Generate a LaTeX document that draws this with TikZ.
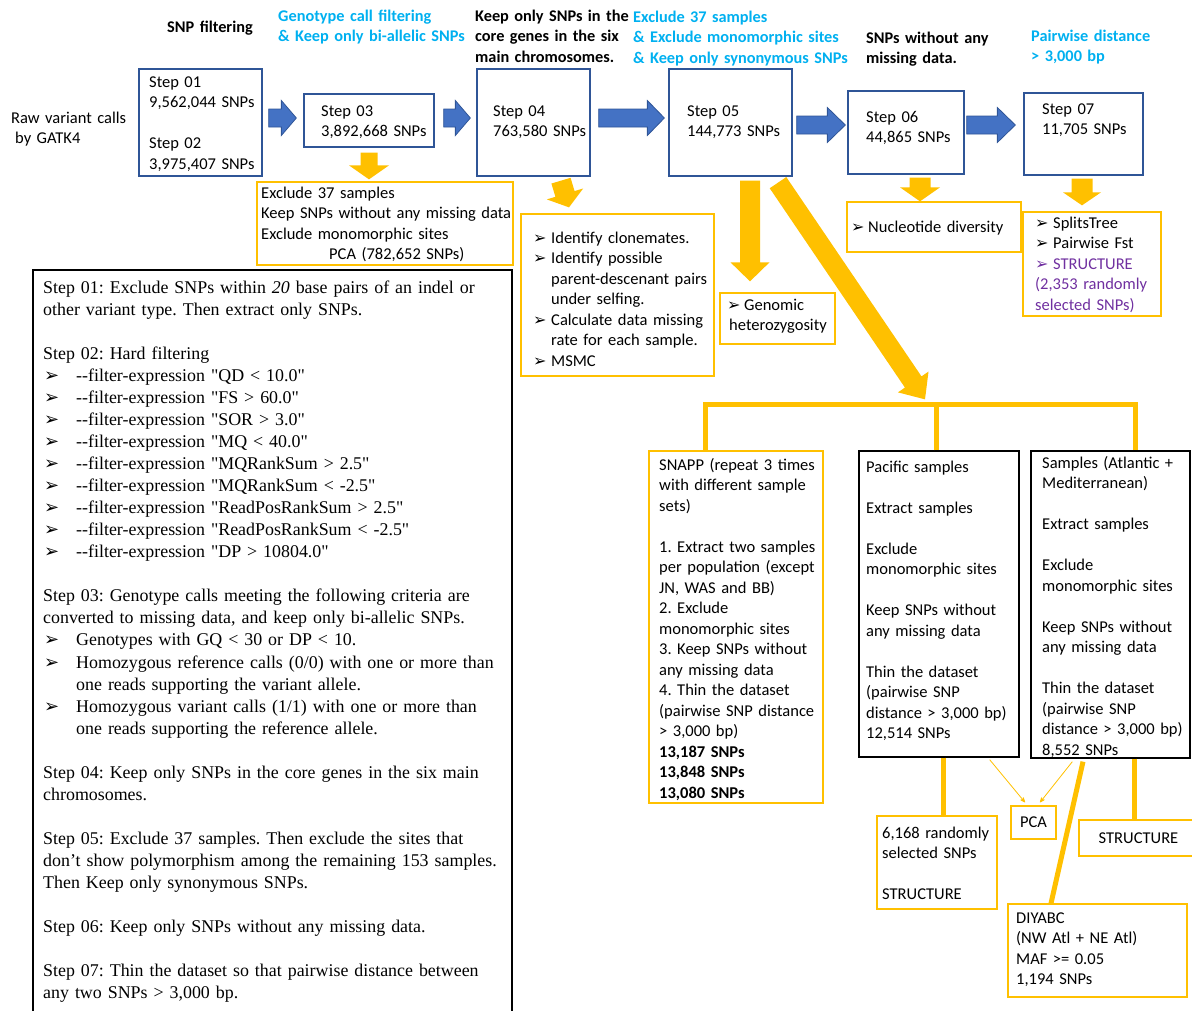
\documentclass[tikz,border=0pt]{standalone}
\usepackage{fontspec}
\setmainfont{Carlito}
\newfontfamily\tnr{Liberation Serif}
\newfontfamily\dingfont{DejaVu Sans}
\usetikzlibrary{calc}
\usetikzlibrary{arrows}
\usetikzlibrary{positioning}
\frenchspacing

\definecolor{hcyan}{HTML}{00B0F0}
\definecolor{boxblue}{HTML}{2F5597}
\definecolor{arrblue}{HTML}{4472C4}
\definecolor{ygold}{HTML}{FFC000}
\definecolor{vio}{HTML}{7030A0}

\newcommand{\calsize}{\fontsize{16.5}{20.5}\selectfont}
\newcommand{\hdsize}{\fontsize{16.3}{20.5}\selectfont}
\newcommand{\tnrsize}{\tnr\fontsize{17.9}{22.06}\selectfont}
\newcommand{\bul}{\makebox[18pt][l]{\dingfont\fontsize{16}{16}\selectfont ➢}}
\newcommand{\sbul}{\makebox[33pt][l]{\hspace{1pt}\dingfont\fontsize{18}{18}\selectfont ➢}}
% block arrow: style, tail, tip, half shaft, half head, head length
\newcommand{\blockarrow}[6]{%
  \coordinate (ba) at #2;
  \coordinate (bb) at #3;
  \coordinate (bc) at ($(bb)!#6pt!(ba)$);
  \path[#1] ($(ba)!#4pt!90:(bb)$) -- ($(bc)!#4pt!-90:(ba)$) -- ($(bc)!#5pt!-90:(ba)$) -- (bb)
    -- ($(bc)!#5pt!90:(ba)$) -- ($(bc)!#4pt!90:(ba)$) -- ($(ba)!#4pt!-90:(bb)$) -- cycle;
}

\tikzset{
  txt/.style={anchor=base west, inner sep=0pt, text width=320pt, align=left, font=\calsize},
  hd/.style={txt, font=\hdsize\bfseries},
  stepbox/.style={draw=boxblue, line width=1.3pt, inner sep=0pt},
  ybox/.style={draw=ygold, line width=1.3pt, inner sep=0pt, font=\calsize},
  kbox/.style={draw=black, line width=1.3pt, inner sep=0pt},
  blarrow/.style={fill=arrblue, draw=boxblue, line width=0.8pt},
  yarrow/.style={fill=ygold},
  yline/.style={draw=ygold, line width=5pt},
  ythin/.style={draw=ygold, line width=0.8pt, ->, >=stealth'}
}

\begin{document}
\begin{tikzpicture}[x=1pt, y=-1pt]
\useasboundingbox (0,0) rectangle (1192,1010);

% headers
\node[hd] (hsnp) at (167,32) {SNP filtering};
\node[hd, text=hcyan] (hgeno) at (278,21) {Genotype call filtering\\\& Keep only bi-allelic SNPs};
\node[hd] (hcore) at (475,21) {Keep only SNPs in the\\core genes in the six\\main chromosomes.};
\node[hd, text=hcyan] (hexcl) at (633,22) {Exclude 37 samples\\\& Exclude monomorphic sites\\\& Keep only synonymous SNPs};
\node[hd] (hmiss) at (866,43) {SNPs without any\\missing data.};
\node[hd, text=hcyan] (hpair) at (1031,41) {Pairwise distance\\> 3,000 bp};
\node[txt] (traw) at (11,123) {Raw variant calls\\\hspace*{4pt}by GATK4};

% step boxes
\node[stepbox, minimum width=123pt, minimum height=107pt] (s12) at (200.5,122.5) {};
\node[stepbox, minimum width=130pt, minimum height=53pt] (s03) at (369,120.5) {};
\node[stepbox, minimum width=113pt, minimum height=107pt] (s04) at (533.5,122.5) {};
\node[stepbox, minimum width=123pt, minimum height=107pt] (s05) at (730.5,122.5) {};
\node[stepbox, minimum width=116pt, minimum height=83pt] (s06) at (906,132.5) {};
\node[stepbox, minimum width=119pt, minimum height=82pt] (s07) at (1083.5,134) {};
\node[txt] (t12) at (149,87) {Step 01\\9,562,044 SNPs\\[20.5pt]Step 02\\3,975,407 SNPs};
\node[txt] (t03) at (321,116) {Step 03\\3,892,668 SNPs};
\node[txt] (t04) at (493,116) {Step 04\\763,580 SNPs};
\node[txt] (t05) at (687,116) {Step 05\\144,773 SNPs};
\node[txt] (t06) at (866,122) {Step 06\\44,865 SNPs};
\node[txt] (t07) at (1042,114) {Step 07\\11,705 SNPs};

\blockarrow{blarrow}{($(s12.east)+(6,-4.5)$)}{($(s03.west)+(-7,-2.5)$)}{9}{17.5}{15}
\blockarrow{blarrow}{($(s03.east)+(9,-2.5)$)}{($(s04.west)+(-6,-4.5)$)}{9}{17.5}{15}
\blockarrow{blarrow}{($(s04.east)+(8,-4.5)$)}{($(s05.west)+(-4,-4.5)$)}{9}{17.5}{17}
\blockarrow{blarrow}{($(s05.east)+(4,2.5)$)}{($(s06.west)+(-2,-7.5)$)}{9}{17.5}{18}
\blockarrow{blarrow}{($(s06.east)+(2,-7.5)$)}{($(s07.west)+(-8,-9)$)}{9}{17.5}{18}

% analysis boxes
\node[ybox, minimum width=256pt, minimum height=83pt] (ypca) at (385,223.5) {};
\node[ybox, minimum width=193pt, minimum height=162pt] (yid) at (617.5,295) {};
\node[ybox, minimum width=115pt, minimum height=51pt] (ygen) at (777.5,318.5) {};
\node[ybox, minimum width=174pt, minimum height=50pt] (ynuc) at (934,227) {};
\node[ybox, minimum width=138pt, minimum height=104pt] (yspl) at (1092,264) {};
\node[txt] (tpca) at (261,198) {Exclude 37 samples\\Keep SNPs without any missing data\\Exclude monomorphic sites\\\hspace*{68pt}PCA (782,652 SNPs)};
\node[txt] (tid) at (533,243) {\bul Identify clonemates.\\\bul Identify possible\\\hspace*{18pt}parent-descenant pairs\\\hspace*{18pt}under selfing.\\\bul Calculate data missing\\\hspace*{18pt}rate for each sample.\\\bul MSMC};
\node[txt] (tgen) at (727,310) {\makebox[17pt][l]{\dingfont\fontsize{16}{16}\selectfont ➢}Genomic\\\hspace*{2pt}heterozygosity};
\node[txt] (tnuc) at (851,232) {\makebox[17pt][l]{\dingfont\fontsize{16}{16}\selectfont ➢}Nucleotide diversity};
\node[txt] (tspl) at (1035,228) {\bul SplitsTree\\\bul Pairwise Fst\\{\color{vio}\bul STRUCTURE\\(2,353 randomly\\selected SNPs)}};

% population branches
\node[ybox, minimum width=174pt, minimum height=352pt] (ysnapp) at (736,627) {};
\node[kbox, minimum width=160pt, minimum height=306pt] (bpac) at (939,604) {};
\node[kbox, minimum width=159pt, minimum height=307pt] (batl) at (1110.5,604.5) {};
\node[txt] (tsnapp) at (659,470) {SNAPP (repeat 3 times\\with different sample\\sets)\\[20.5pt]1. Extract two samples\\per population (except\\JN, WAS and BB)\\2. Exclude\\monomorphic sites\\3. Keep SNPs without\\any missing data\\4. Thin the dataset\\(pairwise SNP distance\\> 3,000 bp)\\\textbf{13,187 SNPs}\\\textbf{13,848 SNPs}\\\textbf{13,080 SNPs}};
\node[txt] (tpac) at (866,472) {Pacific samples\\[20.5pt]Extract samples\\[20.5pt]Exclude\\monomorphic sites\\[20.5pt]Keep SNPs without\\any missing data\\[20.5pt]Thin the dataset\\(pairwise SNP\\distance > 3,000 bp)\\12,514 SNPs};
\node[txt] (tatl) at (1042,468) {Samples (Atlantic +\\Mediterranean)\\[20.5pt]Extract samples\\[20.5pt]Exclude\\monomorphic sites\\[20.5pt]Keep SNPs without\\any missing data\\[20.5pt]Thin the dataset\\(pairwise SNP\\distance > 3,000 bp)\\8,552 SNPs};

\blockarrow{yarrow}{($(s03.south)+(0,5)$)}{($(ypca.north)+(-16,-2)$)}{8.5}{20}{14}
\blockarrow{yarrow}{($(s04.south)+(27.5,4)$)}{($(yid.north)+(-48.5,-6)$)}{10}{19}{14}
\blockarrow{yarrow}{($(s05.south)+(19.5,4)$)}{($(ygen.north)+(-27.5,-11)$)}{10}{19.5}{19}
\blockarrow{yarrow}{($(s05.south)+(47.5,6)$)}{($(bpac.north)+(-14,-51)$)}{10}{18.5}{21}
\blockarrow{yarrow}{($(s06.south)+(14,3)$)}{($(ynuc.north)+(-14,0)$)}{10.5}{20}{14}
\blockarrow{yarrow}{($(s07.south)+(-1.5,3)$)}{($(yspl.north)+(-10,-6)$)}{10.5}{19}{13}

\draw[yline] ($(ysnapp.north)+(-31,0)$) -- ++(0,-46) -| ($(batl.north)+(24.5,0)$);
\draw[yline] ($(bpac.north)+(-3,0)$) -- ++(0,-46);

% downstream analyses
\node[ybox, minimum width=120pt, minimum height=93pt] (y6168) at (937,862.5) {};
\node[ybox, minimum width=45pt, minimum height=33pt] (ypcab) at (1033.5,822.5) {PCA};
\node[ybox, minimum width=119pt, minimum height=36pt] (ystr) at (1138.5,838) {STRUCTURE};
\node[ybox, minimum width=179pt, minimum height=93pt] (ydiy) at (1097.5,950.5) {};
\node[txt] (t6168) at (882,838) {6,168 randomly\\selected SNPs\\[20.5pt]STRUCTURE};
\node[txt] (tdiy) at (1016,923) {DIYABC\\(NW Atl + NE Atl)\\MAF >= 0.05\\1,194 SNPs};

\path (bpac.south) ++(4,0) coordinate (pc1);
\path (batl.south) ++(23.5,0) coordinate (ac1);
\draw[yline] (pc1) -- (pc1 |- y6168.north);
\draw[yline] (ac1) -- (ac1 |- ystr.north);
\draw[yline] ($(batl.south)+(-27.5,3)$) -- ($(ydiy.north)+(-46.5,0)$);
\draw[ythin] ($(bpac.south east)+(-30,2)$) -- ($(ypcab.north)+(-8.5,-3)$);
\draw[ythin] ($(batl.south west)+(42,3)$) -- ($(ypcab.north)+(6.5,-3)$);

% notes on the steps
\node[kbox, minimum width=479pt, minimum height=746pt] (bsteps) at (272.5,643) {};
\node[txt, text width=480pt, font=\tnrsize] (tsteps) at (43,293) {Step 01: Exclude SNPs within \textit{20} base pairs of an indel or\\
other variant type. Then extract only SNPs.\\[22.06pt]
Step 02: Hard filtering\\
\sbul -{}-filter-expression "QD < 10.0"\\
\sbul -{}-filter-expression "FS > 60.0"\\
\sbul -{}-filter-expression "SOR > 3.0"\\
\sbul -{}-filter-expression "MQ < 40.0"\\
\sbul -{}-filter-expression "MQRankSum > 2.5"\\
\sbul -{}-filter-expression "MQRankSum < -2.5"\\
\sbul -{}-filter-expression "ReadPosRankSum > 2.5"\\
\sbul -{}-filter-expression "ReadPosRankSum < -2.5"\\
\sbul -{}-filter-expression "DP > 10804.0"\\[22.06pt]
Step 03: Genotype calls meeting the following criteria are\\
converted to missing data, and keep only bi-allelic SNPs.\\
\sbul Genotypes with GQ < 30 or DP < 10.\\
\sbul Homozygous reference calls (0/0) with one or more than\\
\hspace*{33pt}one reads supporting the variant allele.\\
\sbul Homozygous variant calls (1/1) with one or more than\\
\hspace*{33pt}one reads supporting the reference allele.\\[22.06pt]
Step 04: Keep only SNPs in the core genes in the six main\\
chromosomes.\\[22.06pt]
Step 05: Exclude 37 samples. Then exclude the sites that\\
don’t show polymorphism among the remaining 153 samples.\\
Then Keep only synonymous SNPs.\\[22.06pt]
Step 06: Keep only SNPs without any missing data.\\[22.06pt]
Step 07: Thin the dataset so that pairwise distance between\\
any two SNPs > 3,000 bp.};
\end{tikzpicture}
\end{document}
